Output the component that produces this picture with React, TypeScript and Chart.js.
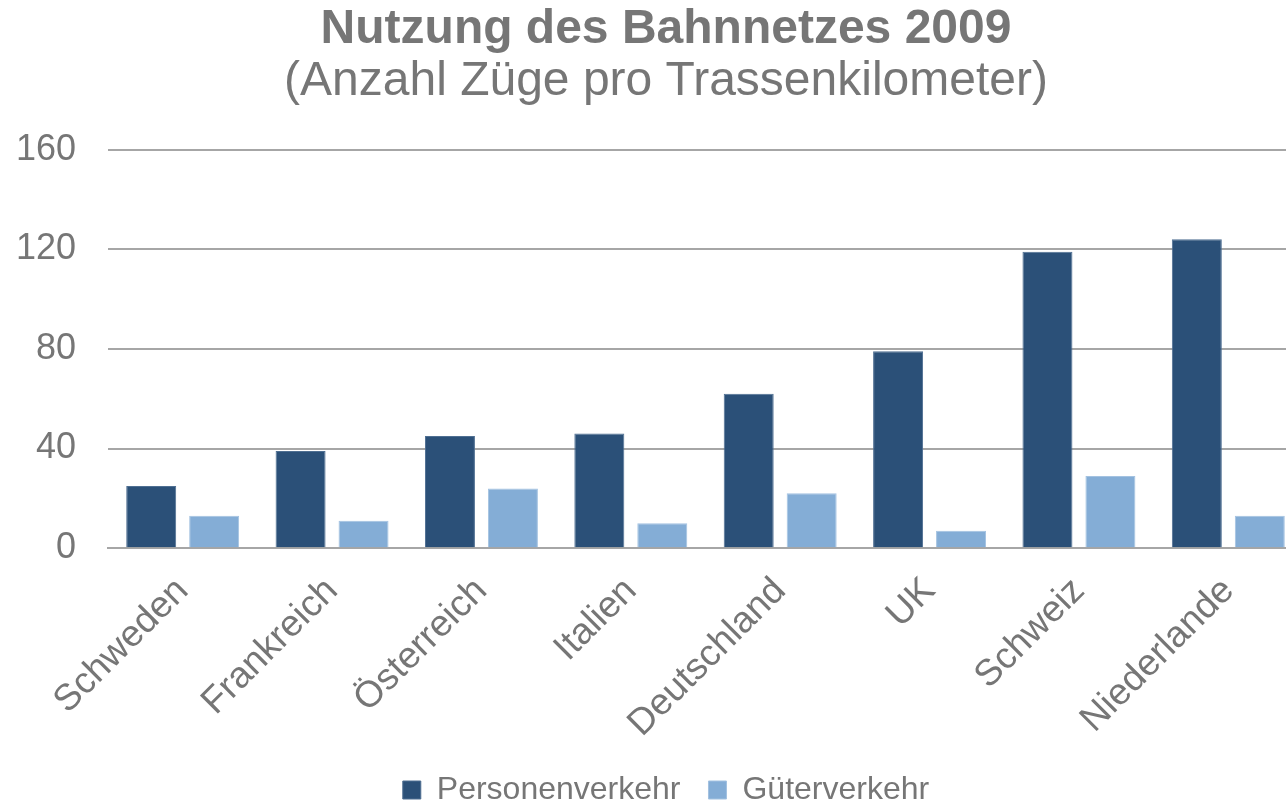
import React, { useEffect, useRef } from "react";
import { Chart, registerables } from "chart.js";

Chart.register(...registerables);

const categories = ["Schweden", "Frankreich", "Österreich", "Italien", "Deutschland", "UK", "Schweiz", "Niederlande"];
const personenverkehr = [25, 39, 45, 46, 62, 79, 119, 124];
const gueterverkehr = [13, 11, 24, 10, 22, 7, 29, 13];
const yTicks = [0, 40, 80, 120, 160];

const GRAY = "#767676";
const FONT = "'Liberation Sans', Arial, sans-serif";

export default function App() {
  const ref = useRef<HTMLCanvasElement | null>(null);
  useEffect(() => {
    if (!ref.current) return;
    const chart = new Chart(ref.current, {
      type: "bar",
      data: {
        labels: categories,
        datasets: [
          {
            label: "Personenverkehr",
            data: personenverkehr,
            backgroundColor: "#2B5078",
            borderColor: "#4F6F92",
            borderWidth: 1,
            categoryPercentage: 0.843,
            barPercentage: 0.794,
          },
          {
            label: "Güterverkehr",
            data: gueterverkehr,
            backgroundColor: "#84ADD6",
            borderColor: "#A3C2E1",
            borderWidth: 1,
            categoryPercentage: 0.843,
            barPercentage: 0.794,
          },
        ],
      },
      options: {
        animation: false,
        responsive: true,
        maintainAspectRatio: false,
        layout: { padding: { left: 0, right: 0, top: 0, bottom: -11 } },
        plugins: {
          title: {
            display: true,
            text: "Nutzung des Bahnnetzes 2009",
            color: GRAY,
            font: { family: FONT, size: 48, weight: "bold", lineHeight: 1.1 },
            padding: { top: 3, bottom: 0 },
          },
          subtitle: {
            display: true,
            text: "(Anzahl Züge pro Trassenkilometer)",
            color: GRAY,
            font: { family: FONT, size: 48, weight: "normal", lineHeight: 1.1 },
            padding: { top: 0, bottom: 41 },
          },
          legend: {
            position: "bottom",
            labels: {
              color: GRAY,
              font: { family: FONT, size: 32 },
              boxWidth: 18,
              boxHeight: 18,
              padding: 28,
            },
          },
          tooltip: { enabled: false },
        },
        scales: {
          x: {
            grid: { display: false },
            border: { display: true, color: "#A6A6A6", width: 2 },
            afterFit: (scale: any) => {
              scale.height = scale.height - 13;
            },
            ticks: {
              color: GRAY,
              font: { family: FONT, size: 37 },
              minRotation: 45,
              maxRotation: 45,
              padding: 13,
            },
          },
          y: {
            min: 0,
            max: 160,
            afterBuildTicks: (scale: any) => {
              scale.ticks = yTicks.map((v) => ({ value: v }));
            },
            afterFit: (scale: any) => {
              scale.width = 108;
            },
            grid: { color: "#A6A6A6", lineWidth: 2, drawTicks: false },
            border: { display: false },
            ticks: {
              color: GRAY,
              font: { family: FONT, size: 36 },
              padding: 32,
            },
          },
          yRight: {
            position: "right",
            display: true,
            grid: { display: false, drawTicks: false },
            border: { display: false },
            ticks: { display: false },
            afterFit: (scale: any) => {
              scale.width = 29;
            },
          },
        },
      },
    });
    return () => chart.destroy();
  }, []);
  return (
    <div style={{ position: "absolute", left: 0, top: 0, width: 1286, height: 805, overflow: "hidden", background: "#fff" }}>
      <div style={{ position: "relative", width: 1332, height: 805 }}>
        <canvas ref={ref} style={{ width: "100%", height: "100%" }} />
      </div>
    </div>
  );
}
